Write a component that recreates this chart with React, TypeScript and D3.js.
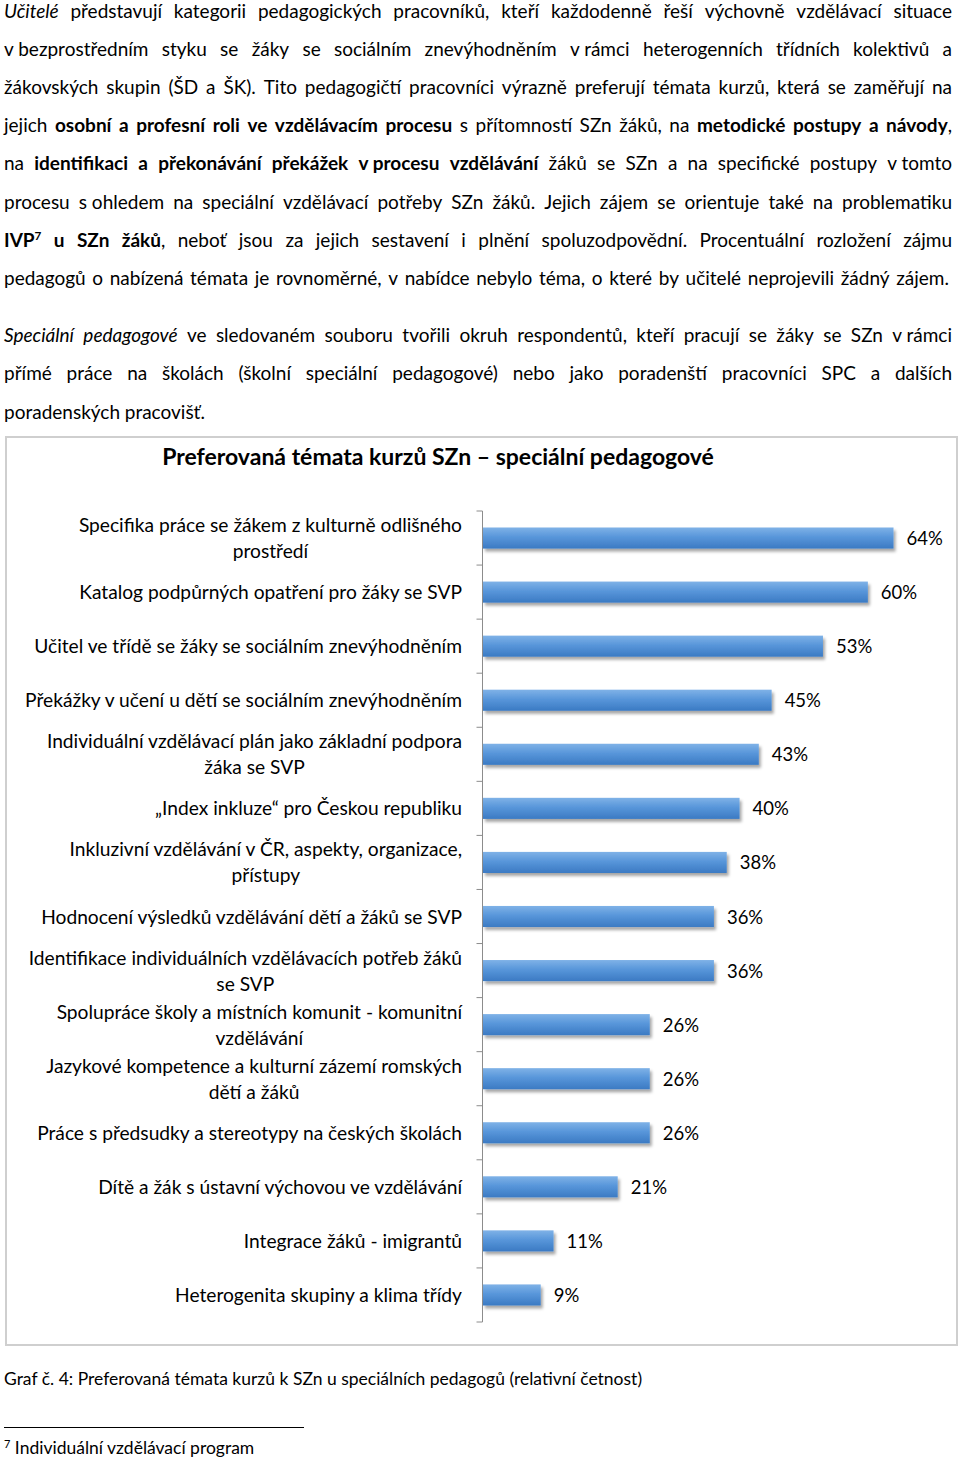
import React, { useEffect, useRef } from 'react';
import * as d3 from 'd3';

// Text of the page. Markup: _italic_, *bold*, ^superscript^
const paragraph1 = [
  '_Učitelé_ představují kategorii pedagogických pracovníků, kteří každodenně řeší výchovně vzdělávací situace',
  'v\u00A0bezprostředním styku se žáky se sociálním znevýhodněním v\u00A0rámci heterogenních třídních kolektivů a',
  'žákovských skupin (ŠD a ŠK). Tito pedagogičtí pracovníci výrazně preferují témata kurzů, která se zaměřují na',
  'jejich *osobní a profesní roli ve vzdělávacím procesu* s přítomností SZn žáků, na *metodické postupy a návody*,',
  'na *identifikaci a překonávání překážek v\u00A0procesu vzdělávání* žáků se SZn a na specifické postupy v\u00A0tomto',
  'procesu s\u00A0ohledem na speciální vzdělávací potřeby SZn žáků. Jejich zájem se orientuje také na problematiku',
  '*IVP^7^ u SZn žáků*, neboť jsou za jejich sestavení i plnění spoluzodpovědní. Procentuální rozložení zájmu',
  'pedagogů o nabízená témata je rovnoměrné, v nabídce nebylo téma, o které by učitelé neprojevili žádný zájem.',
];

const paragraph2 = [
  '_Speciální pedagogové_ ve sledovaném souboru tvořili okruh respondentů, kteří pracují se žáky se SZn v\u00A0rámci',
  'přímé práce na školách (školní speciální pedagogové) nebo jako poradenští pracovníci SPC a dalších',
  'poradenských pracovišť.',
];

const chartTitle = 'Preferovaná témata kurzů SZn – speciální pedagogové';

const categories = [
  'Specifika práce se žákem z kulturně odlišného\nprostředí',
  'Katalog podpůrných opatření pro žáky se SVP',
  'Učitel ve třídě se žáky se sociálním znevýhodněním',
  'Překážky v učení u dětí se sociálním znevýhodněním',
  'Individuální vzdělávací plán jako základní podpora\nžáka se SVP',
  '„Index inkluze“ pro Českou republiku',
  'Inkluzivní vzdělávání v ČR, aspekty, organizace,\npřístupy',
  'Hodnocení výsledků vzdělávání dětí a žáků se SVP',
  'Identifikace individuálních vzdělávacích potřeb žáků\nse SVP',
  'Spolupráce školy a místních komunit - komunitní\nvzdělávání',
  'Jazykové kompetence a kulturní zázemí romských\ndětí a žáků',
  'Práce s předsudky a stereotypy na českých školách',
  'Dítě a žák s ústavní výchovou ve vzdělávání',
  'Integrace žáků - imigrantů',
  'Heterogenita skupiny a klima třídy',
];

const shares = [0.64, 0.6, 0.53, 0.45, 0.43, 0.4, 0.38, 0.36, 0.36, 0.26, 0.26, 0.26, 0.21, 0.11, 0.09];

const caption = 'Graf č. 4: Preferovaná témata kurzů k SZn u speciálních pedagogů (relativní četnost)';
const footnoteMark = '7';
const footnoteText = 'Individuální vzdělávací program';

const FONT = 'Lato, "Open Sans", sans-serif';
const BODY_SIZE = 19;

type Run = { text: string; bold: boolean; italic: boolean; sup: boolean };

// split a marked-up line into words, each word is a list of styled runs
function parseLine(src: string): Run[][] {
  const runs: Run[] = [];
  let bold = false, italic = false, sup = false, buf = '';
  const push = () => {
    if (buf) runs.push({ text: buf, bold, italic, sup });
    buf = '';
  };
  for (const ch of src) {
    if (ch === '*') { push(); bold = !bold; }
    else if (ch === '_') { push(); italic = !italic; }
    else if (ch === '^') { push(); sup = !sup; }
    else buf += ch;
  }
  push();
  const words: Run[][] = [[]];
  runs.forEach((r) => {
    r.text.split(' ').forEach((p, i) => {
      if (i > 0) words.push([]);
      if (p) words[words.length - 1].push({ ...r, text: p });
    });
  });
  return words.filter((w) => w.length);
}

function layoutParagraph(g: any, lines: string[], y0: number, lineH: number, left: number, right: number, lastRight: number | null) {
  lines.forEach((src, li) => {
    const y = y0 + li * lineH;
    const nodes = parseLine(src).map((word) => {
      const t = g.append('text').attr('y', y).attr('font-size', BODY_SIZE).attr('fill', '#000');
      word.forEach((r) => {
        const ts = t.append('tspan')
          .text(r.text)
          .attr('font-weight', r.bold ? 700 : 400)
          .attr('font-style', r.italic ? 'italic' : 'normal');
        if (r.sup) ts.attr('font-size', BODY_SIZE * 0.62).attr('dy', -7);
      });
      return { t, w: t.node().getComputedTextLength() };
    });
    const total = d3.sum(nodes, (n) => n.w);
    const target = li === lines.length - 1 ? lastRight : right;
    const gap = target == null || nodes.length < 2
      ? BODY_SIZE * 0.25
      : (target - left - total) / (nodes.length - 1);
    let x = left;
    nodes.forEach((n) => {
      n.t.attr('x', x);
      x += n.w + gap;
    });
  });
}

const App = () => {
  const svgRef = useRef<SVGSVGElement>(null);

  useEffect(() => {
    const svg = d3.select(svgRef.current);
    svg.selectAll('*').remove();
    svg.style('font-family', FONT);

    const defs = svg.append('defs');
    const grad = defs.append('linearGradient').attr('id', 'barGrad')
      .attr('x1', 0).attr('y1', 0).attr('x2', 0).attr('y2', 1);
    grad.append('stop').attr('offset', '0%').attr('stop-color', '#7fb2e7');
    grad.append('stop').attr('offset', '45%').attr('stop-color', '#5896da');
    grad.append('stop').attr('offset', '100%').attr('stop-color', '#3b7ac3');
    const shadow = defs.append('filter').attr('id', 'barShadow')
      .attr('x', '-10%').attr('y', '-30%').attr('width', '130%').attr('height', '180%');
    shadow.append('feDropShadow').attr('dx', 2).attr('dy', 3).attr('stdDeviation', 1.6)
      .attr('flood-color', '#000').attr('flood-opacity', 0.35);

    // body text
    const body = svg.append('g');
    layoutParagraph(body, paragraph1, 18, 38.1, 4, 952, 949);
    layoutParagraph(body, paragraph2, 342, 38.3, 4, 952, null);

    // chart frame
    const chart = svg.append('g');
    chart.append('rect')
      .attr('x', 6).attr('y', 437).attr('width', 951).attr('height', 908)
      .attr('fill', '#fff').attr('stroke', '#cfcfcf').attr('stroke-width', 2);

    chart.append('text')
      .attr('x', 438).attr('y', 465)
      .attr('text-anchor', 'middle')
      .attr('font-size', 23).attr('font-weight', 700)
      .text(chartTitle);

    const y = d3.scaleBand<string>()
      .domain(categories)
      .range([511, 1322])
      .paddingInner(0.61)
      .paddingOuter(0.305);
    const x = d3.scaleLinear().domain([0, 0.7]).range([483, 932]);
    const pct = d3.format('.0%');

    // axis line + ticks at category boundaries
    const axisX = x(0) - 0.5;
    chart.append('line')
      .attr('x1', axisX).attr('x2', axisX)
      .attr('y1', y.range()[0]).attr('y2', y.range()[1])
      .attr('stroke', '#8c8c8c');
    chart.selectAll('.tick')
      .data(d3.range(categories.length + 1))
      .join('line')
      .attr('class', 'tick')
      .attr('x1', axisX - 6).attr('x2', axisX)
      .attr('y1', (i) => y.range()[0] + i * y.step())
      .attr('y2', (i) => y.range()[0] + i * y.step())
      .attr('stroke', '#8c8c8c');

    // bars
    chart.selectAll('.bar')
      .data(categories)
      .join('rect')
      .attr('class', 'bar')
      .attr('x', x(0))
      .attr('y', (c) => y(c)!)
      .attr('height', y.bandwidth())
      .attr('width', (c, i) => x(shares[i]) - x(0))
      .attr('fill', 'url(#barGrad)')
      .attr('filter', 'url(#barShadow)');

    // value labels
    chart.selectAll('.val')
      .data(categories)
      .join('text')
      .attr('class', 'val')
      .attr('x', (c, i) => x(shares[i]) + 13)
      .attr('y', (c) => y(c)! + y.bandwidth() / 2 + 7)
      .attr('font-size', 18.5)
      .text((c, i) => pct(shares[i]));

    // category labels
    const labelRight = 462;
    categories.forEach((c) => {
      const lines = c.split('\n');
      const cy = y(c)! + y.bandwidth() / 2;
      const t = chart.append('text').attr('font-size', 19.2);
      lines.forEach((ln, j) => {
        t.append('tspan')
          .attr('y', cy + 7 + (j - (lines.length - 1) / 2) * 26)
          .text(ln);
      });
      if (lines.length === 1) {
        t.attr('text-anchor', 'end').selectAll('tspan').attr('x', labelRight);
      } else {
        const widths = t.selectAll('tspan').nodes().map((n: any) => n.getComputedTextLength());
        const mid = labelRight - (d3.max(widths) as number) / 2;
        t.attr('text-anchor', 'middle').selectAll('tspan').attr('x', mid);
      }
    });

    // caption and footnote
    svg.append('text')
      .attr('x', 4).attr('y', 1385)
      .attr('font-size', 17.5)
      .text(caption);
    svg.append('line')
      .attr('x1', 4).attr('x2', 304).attr('y1', 1427.5).attr('y2', 1427.5)
      .attr('stroke', '#000').attr('stroke-width', 1);
    const fn = svg.append('text').attr('x', 4).attr('y', 1454).attr('font-size', 17.5);
    fn.append('tspan').attr('font-size', 11).attr('dy', -6).text(footnoteMark);
    fn.append('tspan').attr('dy', 6).text(' ' + footnoteText);
  }, []);

  return (
    <svg
      ref={svgRef}
      width={960}
      height={1462}
      style={{ position: 'absolute', left: 0, top: 0, background: '#fff' }}
    />
  );
};

export default App;
